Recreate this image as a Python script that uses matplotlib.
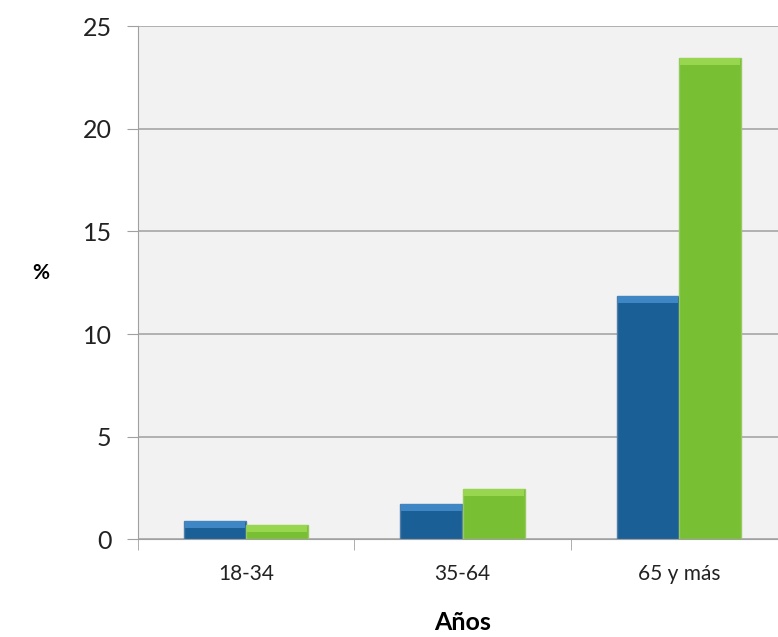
import numpy as np
import matplotlib.pyplot as plt

# data
grupos = ['18-34', '35-64', '65 y más']
serie_azul = [0.91, 1.72, 11.86]
serie_verde = [0.68, 2.45, 23.46]

plt.rcParams['font.family'] = ['Lato', 'DejaVu Sans']

fig = plt.figure(figsize=(7.78, 6.37), dpi=100)
ax = fig.add_axes([138 / 778, 1 - 539.3 / 637, 649 / 778, 513 / 637])
ax.set_facecolor('#f2f2f2')

x = np.arange(len(grupos))
w = 0.287
azul = np.array(serie_azul)
verde = np.array(serie_verde)
ax.bar(x - w / 2, azul, w, color='#1b5f97', edgecolor='#4f7eab', linewidth=1.0, zorder=3)
ax.bar(x + w / 2, verde, w, color='#78bf33', edgecolor='#96c95f', linewidth=1.0, zorder=3)

# lighter bevel on top of each bar
bevel = 0.35
ax.bar(x - w / 2, np.minimum(bevel, azul / 2), w * 0.97, bottom=azul - np.minimum(bevel, azul / 2),
       color='#3f86c4', linewidth=0, zorder=4)
ax.bar(x + w / 2, np.minimum(bevel, verde / 2), w * 0.97, bottom=verde - np.minimum(bevel, verde / 2),
       color='#98d650', linewidth=0, zorder=4)

ax.set_xlim(-0.5, 2.5)
ax.set_ylim(0, 25)
ax.set_yticks(range(0, 26, 5))
ax.set_xticks(x)
ax.set_xticklabels(grupos, fontsize=15)
ax.set_xticks([-0.5, 0.5, 1.5, 2.5], minor=True)
ax.tick_params(axis='x', which='major', length=0, pad=18)
ax.tick_params(axis='x', which='minor', length=8, color='#a0a0a0')
ax.tick_params(axis='y', length=8, color='#a0a0a0', labelsize=18, pad=11, labelcolor='#222222')
ax.tick_params(axis='x', labelcolor='#222222')

ax.grid(axis='y', color='#a6a6a6', linewidth=1.2, zorder=0)
for s in ['top', 'right']:
    ax.spines[s].set_visible(False)
ax.spines['left'].set_color('#a0a0a0')
ax.spines['bottom'].set_color('#a0a0a0')

ax.set_ylabel('%', fontsize=15, fontweight='bold', rotation=0)
ax.yaxis.set_label_coords(-0.15, 0.5)
ax.set_xlabel('Años', fontsize=18, fontweight='bold', labelpad=19)

fig.savefig('out.png', dpi=100, facecolor='white')
